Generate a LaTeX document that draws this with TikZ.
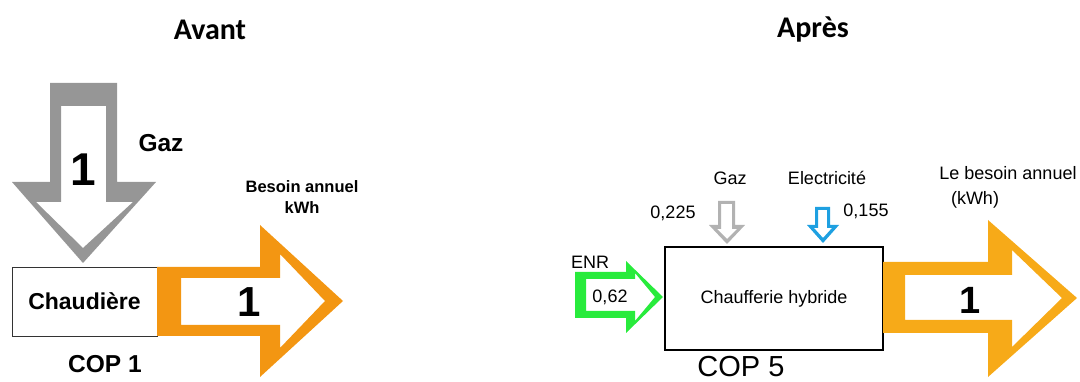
\documentclass[tikz,border=0pt]{standalone}
\usepackage{fontspec}
\setmainfont{Liberation Sans}
\newfontfamily\headfont{Carlito}
\definecolor{flowgray}{RGB}{150,150,150}
\definecolor{lightgray2}{RGB}{178,178,178}
\definecolor{flowblue}{RGB}{30,160,225}
\definecolor{floworange}{RGB}{243,150,18}
\definecolor{flowamber}{RGB}{247,170,24}
\definecolor{flowgreen}{RGB}{40,235,60}
\newcommand{\fs}[1]{\fontsize{#1}{#1}\selectfont}
\tikzset{
  x=1pt, y=-1pt,
  txt/.style={inner sep=0pt, text=black},
  bold/.style={txt, font=\bfseries},
  heading/.style={txt, font=\headfont\bfseries\fs{30}},
  label/.style={txt, font=\fs{18}},
  boxnode/.style={draw, inner sep=0pt, fill=white},
  hollow/.style={fill=#1, even odd rule}
}
\begin{document}
\begin{tikzpicture}
\useasboundingbox (0,0) rectangle (1080,382);

% titles
\node[heading] (avant) at (210,30) {Avant};
\node[heading] (apres) at (813,30) {Après};

% ---------- before: single boiler ----------
% gas input arrow
\path[hollow=flowgray]
  (50,83) -- (117,83) -- (117,182) -- (156,182) -- (83,263) -- (12,182) -- (50,182) -- cycle
  (61,106) -- (106,106) -- (106,202) -- (133,202) -- (83,248) -- (36,202) -- (61,202) -- cycle;
\node[bold, font=\bfseries\fs{46}] (one1) at (83,170) {1};
\node[bold, font=\bfseries\fs{24.5}] (gaz1) at (161,143) {Gaz};

% boiler
\node[boxnode, draw=black!80, line width=0.9pt, minimum width=145pt, minimum height=69pt,
      font=\bfseries\fs{23}] (chaud) at (84.5,301.5) {Chaudière};

% heat output arrow
\path[hollow=floworange]
  (157,267) -- (260,267) -- (260,225) -- (343,301) -- (260,377) -- (260,336) -- (157,336) -- cycle
  (181,278) -- (280,278) -- (280,254) -- (325,301) -- (280,348) -- (280,325) -- (181,325) -- cycle;
\node[bold, font=\bfseries\fs{42}] (one2) at (249,302) {1};
\node[bold, font=\bfseries\fs{16.5}, align=center] (need1) at (302,197)
  {Besoin annuel\\[4pt]kWh};
\node[bold, font=\bfseries\fs{24.5}] (cop1) at (105,364) {COP 1};

% ---------- after: hybrid plant ----------
% hybrid plant box
\node[boxnode, draw=black, line width=1.1pt, minimum width=218pt, minimum height=103pt,
      font=\fs{18}] (hyb) at (774,298.5) {Chaufferie hybride};

% renewable input
\path[hollow=flowgreen]
  (575,272) -- (626,272) -- (626,261) -- (663,297) -- (626,333) -- (626,318) -- (575,318) -- cycle
  (586,279) -- (635,279) -- (635,273) -- (655,297) -- (635,321) -- (635,311) -- (586,311) -- cycle;
\node[label] (enr) at (590,262) {ENR};
\node[label] (enrv) at (610,297) {0,62};

% gas input
\path[hollow=lightgray2]
  (718,201) -- (735,201) -- (735,225) -- (745,225) -- (727,244) -- (709,225) -- (718,225) -- cycle
  (721,204) -- (732,204) -- (732,229) -- (737,229) -- (727,239) -- (717,229) -- (721,229) -- cycle;
\node[label] (gaz2) at (730,178) {Gaz};
\node[label] (gazv) at (673,213) {0,225};

% electricity input
\path[hollow=flowblue]
  (815,207) -- (830,207) -- (830,225) -- (839,225) -- (823,243) -- (807,225) -- (815,225) -- cycle
  (818,210) -- (827,210) -- (827,228) -- (832,228) -- (823,238) -- (814,228) -- (818,228) -- cycle;
\node[label] (elec) at (827,178) {Electricité};
\node[label] (elecv) at (866,211) {0,155};

% heat output arrow
\path[hollow=flowamber]
  (883,262) -- (988,262) -- (988,220) -- (1077,298) -- (988,377) -- (988,333) -- (883,333) -- cycle
  (905,275) -- (1012,275) -- (1012,250) -- (1062,298) -- (1012,347) -- (1012,320) -- (905,320) -- cycle;
\node[bold, font=\bfseries\fs{38}] (one3) at (970,300) {1};
\node[label] (need2) at (1008,173) {Le besoin annuel};
\node[label] (kwh2) at (975,200) {(kWh)};
\node[txt, font=\fs{29}, anchor=base] (cop5) at (741,377) {COP 5};
\end{tikzpicture}
\end{document}
